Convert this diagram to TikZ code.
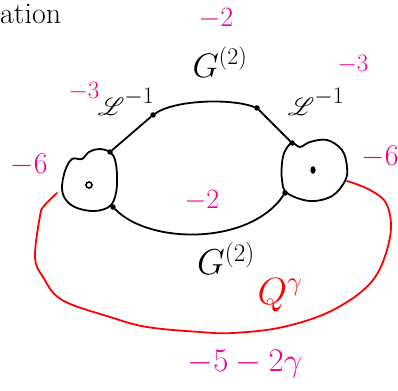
\RequirePackage{fix-cm}
\documentclass[tikz,border=0pt]{standalone}
\usepackage{amsmath,amssymb,mathrsfs}
\usetikzlibrary{calc,positioning}

\tikzset{
  vtx/.style = {circle, fill=black, inner sep=0pt, minimum size=5.5pt},
  lbl/.style = {inner sep=0pt},
  pinklbl/.style = {lbl, text=magenta},
  edge/.style = {black, line width=1.8pt, line cap=round},
}

\begin{document}
\begin{tikzpicture}[x=1pt, y=-1pt]
 \useasboundingbox (0,0) rectangle (398,390);

 % the two blobs
 \draw[edge] plot[smooth cycle, tension=0.6] coordinates {(82,159) (72,159) (65,171) (62,188) (66,200) (77,208) (95,211) (110,206) (116,193) (117,175) (115,160) (110,152) (99,149) (89,152)};
 \draw[edge] plot[smooth cycle, tension=0.6] coordinates {(292,143) (300,147) (310,142) (327,140) (342,150) (347,167) (345,181) (332,196) (310,201) (287,193) (282,180) (282,163) (285,151)};
 \draw[black, line width=1.6pt] (89,185) circle (3pt);
 \fill[black] (313,170) ellipse (2.6pt and 3.8pt);

 % vertices
 \node[vtx] (lt) at (110,152) {};
 \node[vtx] (ul) at (153,115) {};
 \node[vtx] (ur) at (257,108) {};
 \node[vtx] (rt) at (292,143) {};
 \node[vtx] (ll) at (113,207) {};
 \node[vtx] (lr) at (285,193) {};

 % connectors
 \draw[edge] (lt) -- (ul);
 \draw[edge] (ul) .. controls (175,100) and (230,98) .. (ur);
 \draw[edge] (ur) -- (rt);
 \draw[edge] (ll) .. controls (150,245) and (250,245) .. (lr);

 % red loop
 \coordinate (qa) at (57,193);
 \coordinate (qb) at (347,181);
 \draw[red, line width=1.8pt, line cap=round] plot[smooth, tension=0.6] coordinates {(qa) (44,206) (40,216) (35,257) (43,277) (62,300) (110,317) (147,327) (200,332) (233,333) (283,327) (333,310) (373,280) (390,237) (387,205) (370,190) (qb)};

 % labels
 \node[lbl, anchor=west, font=\fontsize{30}{32}\selectfont] (title) at (0,14) {ation};
 \node[pinklbl, font=\fontsize{28}{30}\selectfont] (wtop) at (216,19) {$-2$};
 \node[lbl, font=\fontsize{34}{36}\selectfont] (gtop) at (220,62) {$G^{(2)}$};
 \node[pinklbl, font=\fontsize{25}{27}\selectfont] (wul) at (84,91) {$-3$};
 \node[lbl, font=\fontsize{34}{36}\selectfont] (lul) at (126,102) {$\mathscr{L}^{-1}$};
 \node[pinklbl, font=\fontsize{25}{27}\selectfont] (wur) at (353,64) {$-3$};
 \node[lbl, font=\fontsize{34}{36}\selectfont] (lur) at (316,102) {$\mathscr{L}^{-1}$};
 \node[pinklbl, font=\fontsize{30}{32}\selectfont] (wl) at (29,165) {$-6$};
 \node[pinklbl, font=\fontsize{30}{32}\selectfont] (wr) at (380,157) {$-6$};
 \node[pinklbl, font=\fontsize{28}{30}\selectfont] (wmid) at (202,201) {$-2$};
 \node[lbl, font=\fontsize{36}{38}\selectfont] (gbot) at (226,259) {$G^{(2)}$};
 \node[lbl, text=red, font=\fontsize{38}{40}\selectfont] (qlbl) at (280,295) {$Q^{\gamma}$};
 \node[pinklbl, font=\fontsize{33}{35}\selectfont] (wq) at (245,364) {$-5-2\gamma$};
\end{tikzpicture}
\end{document}
